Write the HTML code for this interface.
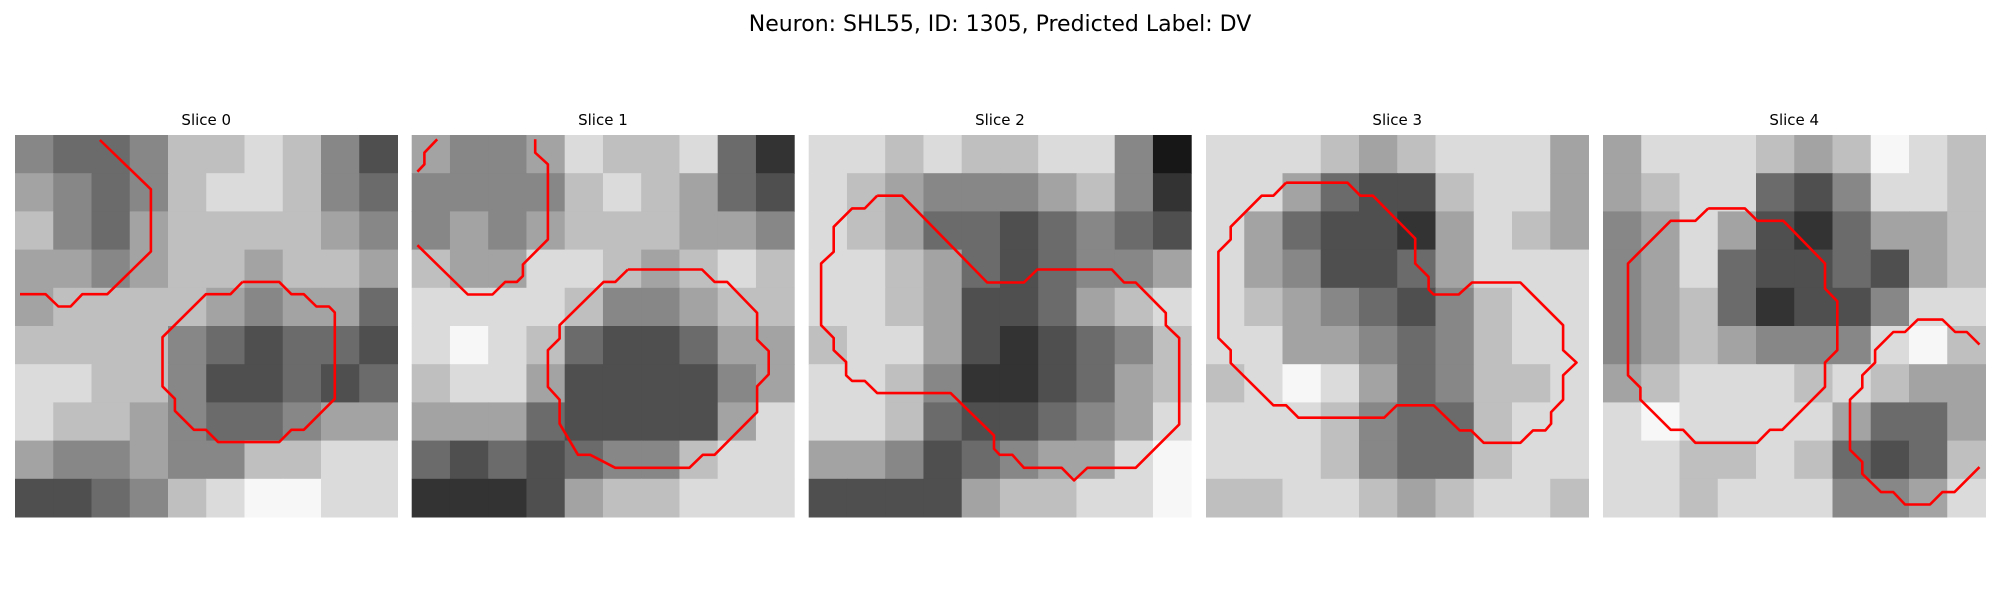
<!DOCTYPE html>
<html><head><meta charset="utf-8"><style>
html,body{margin:0;padding:0;background:#fff;width:2000px;height:600px;overflow:hidden}
svg text{font-family:"DejaVu Sans","Liberation Sans",sans-serif}
</style></head><body>
<svg id="fig" width="2000" height="600" viewBox="0 0 2000 600" xmlns="http://www.w3.org/2000/svg">
<text x="1000" y="31" text-anchor="middle" font-size="22" fill="#000">Neuron: SHL55, ID: 1305, Predicted Label: DV</text>
</svg>
<script>
const sliceTitles = ["Slice 0","Slice 1","Slice 2","Slice 3","Slice 4"];
const grid0 = [[5,4,4,5,7,7,8,7,5,3],[6,5,4,5,7,8,8,7,5,4],[7,5,4,6,7,7,7,7,6,5],[6,6,5,6,7,7,6,7,7,6],[6,7,7,7,7,6,5,6,6,4],[7,7,7,7,5,4,3,4,4,3],[8,8,7,7,5,3,3,4,3,4],[8,7,7,6,5,4,4,5,6,6],[6,5,5,6,5,5,7,7,8,8],[3,3,4,5,7,8,9,9,8,8]];
const grid1 = [[6,5,5,6,8,7,7,8,4,2],[5,5,5,5,7,8,7,6,4,3],[5,6,5,6,7,7,7,6,6,5],[7,6,6,8,8,7,6,7,8,7],[8,8,8,8,7,5,5,6,7,7],[8,9,8,7,4,3,3,4,6,6],[7,8,8,6,3,3,3,3,5,6],[6,6,6,4,3,3,3,3,6,8],[4,3,4,3,4,5,5,7,8,8],[2,2,2,3,6,7,7,8,8,8]];
const grid2 = [[8,8,7,8,7,7,8,8,5,1],[8,7,6,5,5,5,6,7,5,2],[8,7,6,4,4,3,4,5,4,3],[8,8,7,6,4,3,4,5,5,6],[8,8,7,6,3,3,4,6,7,8],[7,8,8,6,3,2,3,4,5,7],[8,8,7,5,2,2,3,4,6,7],[8,8,7,4,3,3,4,5,6,8],[6,6,5,3,4,5,6,6,8,9],[3,3,3,3,6,7,7,8,8,9]];
const grid3 = [[8,8,8,7,6,7,8,8,8,6],[8,8,6,4,3,3,7,8,8,6],[8,6,4,3,3,2,6,8,7,6],[8,6,5,3,3,4,6,8,8,8],[8,7,6,5,4,3,5,7,8,8],[8,8,6,6,5,4,5,7,8,8],[7,8,9,8,6,4,5,7,7,8],[8,8,8,7,5,4,4,7,8,8],[8,8,8,7,5,4,4,7,8,8],[7,7,8,8,7,6,7,8,8,7]];
const grid4 = [[6,8,8,8,7,6,7,9,8,7],[6,7,8,8,4,3,5,8,8,7],[5,6,8,6,3,2,4,6,6,7],[5,6,8,4,3,3,4,3,6,7],[5,6,7,4,2,3,3,5,8,8],[5,6,7,6,5,5,5,8,9,7],[6,7,8,8,8,7,8,7,6,6],[8,9,8,8,8,8,6,4,4,6],[8,8,7,7,8,7,4,3,4,7],[8,8,7,8,8,8,5,5,6,8]];
const grids = [grid0,grid1,grid2,grid3,grid4];
const contours0 = [
 [[6.66,0.39],[10.66,4.26],[10.66,9.14],[7.24,12.49],[5.28,12.49],[4.36,13.45],[3.4,13.45],[2.4,12.49],[0.39,12.49]],
 [[17.84,11.52],[20.72,11.52],[21.68,12.49],[22.65,12.49],[23.64,13.45],[24.63,13.45],[25.08,13.92],[25.08,20.69],[22.65,23.12],[21.68,23.12],[20.72,24.09],[15.93,24.09],[14.97,23.12],[14.03,23.12],[12.54,21.63],[12.54,20.69],[11.57,19.72],[11.57,15.86],[14.97,12.49],[16.9,12.49],[17.84,11.52]]];
const contours1 = [
 [[2.0,0.34],[1.0,1.39],[1.0,2.3],[0.45,2.88]],
 [[9.69,0.34],[9.69,1.39],[10.68,2.3],[10.68,8.19],[8.72,10.16],[8.72,11.05],[8.25,11.52],[7.33,11.52],[6.34,12.51],[4.4,12.51],[0.45,8.64]],
 [[16.96,10.55],[22.77,10.55],[23.76,11.52],[24.74,11.52],[27.09,13.95],[27.09,16.05],[28.0,16.94],[28.0,18.77],[27.09,19.71],[27.09,21.73],[23.76,25.08],[22.83,25.08],[21.78,26.1],[15.97,26.1],[14.0,25.08],[13.04,25.08],[11.6,22.64],[11.6,20.76],[10.68,19.76],[10.68,16.88],[11.6,15.97],[11.6,14.92],[15.05,11.52],[15.97,11.52],[16.96,10.55]]];
const contours2 = [
 [[5.37,4.76],[7.33,4.76],[14.0,11.57],[16.88,11.57],[17.93,10.55],[23.77,10.55],[24.74,11.57],[25.65,11.57],[28.01,13.95],[28.01,14.92],[29.06,15.92],[29.06,22.7],[25.65,26.1],[21.86,26.1],[20.81,27.09],[19.84,26.1],[16.88,26.1],[15.97,25.08],[14.97,25.08],[14.53,24.61],[14.53,23.56],[11.13,20.24],[5.37,20.24],[4.4,19.29],[3.4,19.29],[2.93,18.85],[2.93,17.8],[1.96,16.88],[1.96,15.92],[0.97,14.92],[0.97,10.08],[1.96,9.16],[1.96,7.2],[3.4,5.76],[4.4,5.76],[5.37,4.76]]];
const contours3 = [
 [[6.28,3.74],[11.1,3.74],[12.1,4.76],[13.09,4.76],[16.41,8.12],[16.41,10.08],[17.46,11.13],[17.46,12.12],[17.85,12.51],[19.82,12.51],[20.86,11.57],[24.66,11.57],[28.01,14.92],[28.01,16.88],[29.06,17.85],[28.01,18.85],[28.01,20.76],[27.07,21.73],[27.07,22.64],[26.62,23.17],[25.65,23.17],[24.66,24.14],[21.78,24.14],[20.79,23.17],[19.9,23.17],[17.85,21.2],[14.97,21.2],[13.98,22.17],[7.25,22.17],[6.28,21.2],[5.29,21.2],[1.94,17.88],[1.94,16.88],[0.97,15.92],[0.97,9.16],[1.94,8.19],[1.94,7.2],[4.37,4.76],[5.29,4.76],[6.28,3.74]]];
const contours4 = [
 [[8.25,5.76],[11.13,5.76],[12.12,6.73],[14.14,6.73],[17.41,10.08],[17.41,12.04],[18.38,13.04],[18.38,16.88],[17.41,17.85],[17.41,19.76],[14.06,23.12],[13.09,23.12],[12.09,24.14],[7.25,24.14],[6.28,23.12],[5.31,23.12],[2.93,20.76],[2.93,19.82],[1.96,18.85],[1.96,10.08],[5.31,6.73],[7.25,6.73],[8.25,5.76]],
 [[29.53,16.44],[28.53,15.45],[27.62,15.45],[26.62,14.48],[24.69,14.48],[23.69,15.45],[22.77,15.45],[21.34,16.88],[21.34,17.85],[20.34,18.85],[20.34,19.82],[19.37,20.76],[19.37,24.69],[20.34,25.65],[20.34,26.57],[21.8,28.01],[22.77,28.01],[23.69,28.98],[25.65,28.98],[26.62,28.01],[27.57,28.01],[29.53,26.05]]];
const contours = [contours0,contours1,contours2,contours3,contours4];

const NS = "http://www.w3.org/2000/svg";
const svg = document.getElementById("fig");
const panelX = [15, 411.7, 808.7, 1206, 1603];
const panelY = 135, panelW = 382.5, panelH = 382;
function gray(l){ const v = Math.max(0, Math.min(255, Math.round(l*28 - 5))); return "rgb("+v+","+v+","+v+")"; }
grids.forEach((g, i) => {
  const x0 = panelX[i];
  const grp = document.createElementNS(NS, "g");
  
  
  svg.appendChild(grp);
  const t = document.createElementNS(NS, "text");
  
  
  t.setAttribute("x", x0 + panelW/2); t.setAttribute("y", 125);
  t.setAttribute("text-anchor", "middle"); t.setAttribute("font-size", "15");
  t.textContent = sliceTitles[i];
  grp.appendChild(t);
  const n = g.length, cw = panelW / n, ch = panelH / n;
  g.forEach((row, r) => row.forEach((v, c) => {
    const rect = document.createElementNS(NS, "rect");
    
    
    rect.setAttribute("x", (x0 + c*cw).toFixed(2)); rect.setAttribute("y", (panelY + r*ch).toFixed(2));
    rect.setAttribute("width", (cw+0.5).toFixed(2)); rect.setAttribute("height", (ch+0.5).toFixed(2));
    rect.setAttribute("fill", gray(v));
    grp.appendChild(rect);
  }));
  const s = panelW / 30;
  contours[i].forEach((pts) => {
    const pl = document.createElementNS(NS, "polyline");
    
    
    pl.setAttribute("points", pts.map(p => (x0 + p[0]*s).toFixed(1) + "," + (panelY + p[1]*s).toFixed(1)).join(" "));
    pl.setAttribute("fill", "none"); pl.setAttribute("stroke", "#ff0000");
    pl.setAttribute("stroke-width", "2.6"); pl.setAttribute("stroke-linejoin", "round");
    grp.appendChild(pl);
  });
});
</script>
</body></html>
